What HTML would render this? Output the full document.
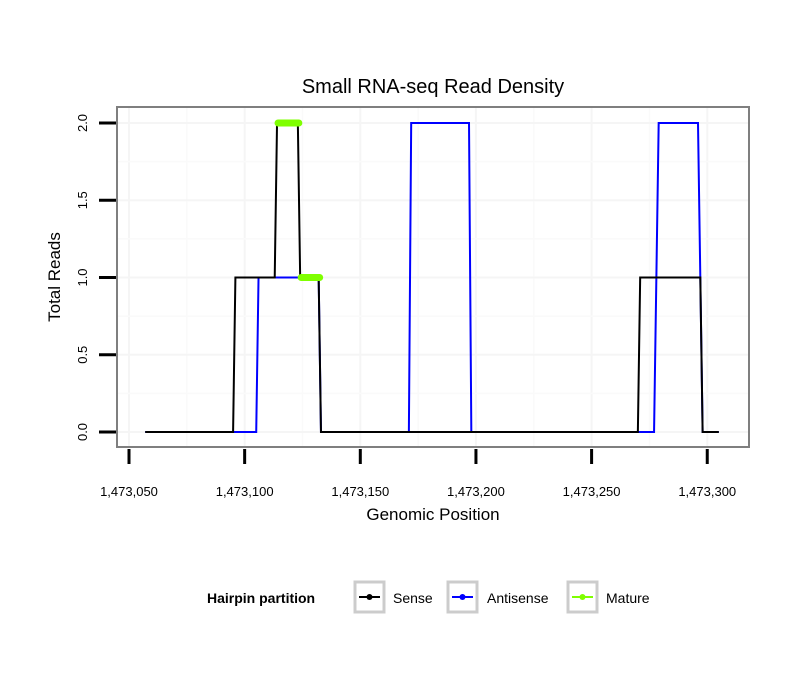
<!DOCTYPE html>
<html><head><meta charset="utf-8"><style>
body{margin:0;background:#fff;font-family:"Liberation Sans",sans-serif}
svg text{font-family:"Liberation Sans",sans-serif}
</style></head><body>
<svg id="c" width="810" height="690" xmlns="http://www.w3.org/2000/svg">
<rect width="810" height="690" fill="#fff"/>
<text x="433" y="93" font-size="20" text-anchor="middle">Small RNA-seq Read Density</text>
<g id="grid"></g>
<g id="series"></g>
<rect x="117" y="107" width="632" height="340" fill="none" stroke="#7f7f7f" stroke-width="2"/>
<g id="axes"></g>
<text x="433" y="520" font-size="17" text-anchor="middle">Genomic Position</text>
<text transform="translate(60,277) rotate(-90)" font-size="17" text-anchor="middle">Total Reads</text>
<g>
<text x="207" y="603" font-size="14" font-weight="bold">Hairpin partition</text>
<g><rect x="355" y="582" width="29" height="30" fill="#fff" stroke="#ccc" stroke-width="3"/><line x1="359" y1="597" x2="380" y2="597" stroke="#000" stroke-width="2"/><circle cx="369.5" cy="597" r="3" fill="#000"/><text x="393" y="603" font-size="14">Sense</text></g>
<g><rect x="448" y="582" width="29" height="30" fill="#fff" stroke="#ccc" stroke-width="3"/><line x1="452" y1="597" x2="473" y2="597" stroke="#0000ff" stroke-width="2"/><circle cx="462.5" cy="597" r="3" fill="#0000ff"/><text x="487" y="603" font-size="14">Antisense</text></g>
<g><rect x="568" y="582" width="29" height="30" fill="#fff" stroke="#ccc" stroke-width="3"/><line x1="572" y1="597" x2="593" y2="597" stroke="#7fff00" stroke-width="2"/><circle cx="582.5" cy="597" r="3" fill="#7fff00"/><text x="606" y="603" font-size="14">Mature</text></g>
</g>
</svg>
<script>
const xTicks=[1473050,1473100,1473150,1473200,1473250,1473300];
const xTickLabels=["1,473,050","1,473,100","1,473,150","1,473,200","1,473,250","1,473,300"];
const yTicks=[0,0.5,1,1.5,2];
const yTickLabels=["0.0","0.5","1.0","1.5","2.0"];
const senseX=[1473057,1473095,1473096,1473113,1473114,1473123,1473124,1473132,1473133,1473270,1473271,1473297,1473298,1473305];
const senseY=[0,0,1,1,2,2,1,1,0,0,1,1,0,0];
const antiX=[1473057,1473105,1473106,1473132,1473133,1473171,1473172,1473197,1473198,1473277,1473279,1473296,1473298,1473305];
const antiY=[0,0,1,1,0,0,2,2,0,0,2,2,0,0];
const matureStart=[1473114,1473124];
const matureEnd=[1473123,1473132];
const matureY=[2,1];
const NS="http://www.w3.org/2000/svg";
function sx(v){return 129+(v-1473050)*2.313;}
function sy(v){return 432-v*154.5;}
function mk(t,a,p){const e=document.createElementNS(NS,t);for(const k in a)e.setAttribute(k,a[k]);p.appendChild(e);return e;}
const grid=document.getElementById('grid'),axes=document.getElementById('axes'),ser=document.getElementById('series');
for(let i=0;i<xTicks.length;i++){
 const x=sx(xTicks[i]);
 const g=mk('line',{x1:x,x2:x,y1:108,y2:446,stroke:'#f5f5f5','stroke-width':2},grid);
 
 
 const xm=sx(xTicks[i]+25);
 if(xm<748){const m=mk('line',{x1:xm,x2:xm,y1:108,y2:446,stroke:'#fafafa','stroke-width':1.5},grid);
 
 }
 const t=mk('line',{x1:x,x2:x,y1:449,y2:464,stroke:'#000','stroke-width':3},axes);
 
 
 const l=mk('text',{x:x,y:496,'font-size':13,'text-anchor':'middle'},axes);l.textContent=xTickLabels[i];
 
 
}
for(let i=0;i<yTicks.length;i++){
 const y=sy(yTicks[i]);
 const g=mk('line',{x1:118,x2:748,y1:y,y2:y,stroke:'#f5f5f5','stroke-width':2},grid);
 
 
 if(i<yTicks.length-1){const ym=sy(yTicks[i]+0.25);const m=mk('line',{x1:118,x2:748,y1:ym,y2:ym,stroke:'#fafafa','stroke-width':1.5},grid);
 
 }
 const t=mk('line',{x1:99,x2:116,y1:y,y2:y,stroke:'#000','stroke-width':3},axes);
 
 
 const l=mk('text',{transform:`translate(87,${y}) rotate(-90)`,'font-size':13,'text-anchor':'middle'},axes);l.textContent=yTickLabels[i];
 
 
}
function path(xs,ys,color,name){
 const d=xs.map((v,i)=>(i?'L':'M')+sx(v)+','+sy(ys[i])).join('');
 const p=mk('path',{d:d,fill:'none',stroke:color,'stroke-width':2},ser);
 
 
}
path(antiX,antiY,'#0000ff','antisense-line');
path(senseX,senseY,'#000','sense-line');
for(let i=0;i<matureY.length;i++){
 const m=mk('line',{x1:sx(matureStart[i])+1,x2:sx(matureEnd[i])+1,y1:sy(matureY[i]),y2:sy(matureY[i]),stroke:'#7fff00','stroke-width':7,'stroke-linecap':'round'},ser);
 
 
}
</script>
</body></html>
